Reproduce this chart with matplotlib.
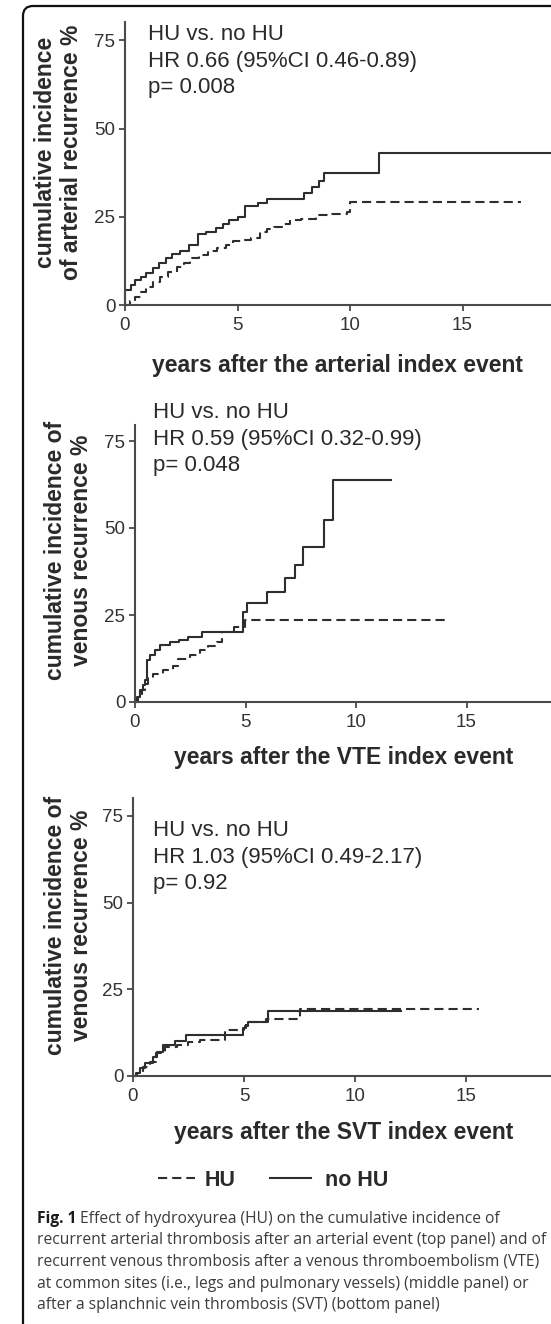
import matplotlib
matplotlib.use("Agg")
import matplotlib.pyplot as plt
from matplotlib.patches import FancyBboxPatch
from matplotlib.lines import Line2D
from matplotlib.transforms import IdentityTransform

plt.rcParams['font.family'] = ['Liberation Sans', 'DejaVu Sans']
plt.rcParams['lines.scale_dashes'] = False

# ---------------- data (years, cumulative incidence %) ----------------
art_hu_t = [0, 0.2, 0.45, 0.7, 0.95, 1.25, 1.55, 1.9, 2.3, 2.6, 2.9, 3.3, 3.7, 4.1,
            4.5, 4.8, 5.2, 5.6, 6.0, 6.3, 6.6, 7.0, 7.35, 7.8, 8.5, 9.0, 9.85, 10.0, 17.6]
art_hu_v = [0, 1.0, 2.4, 3.8, 5.2, 6.6, 8.0, 9.4, 10.9, 12.0, 13.2, 14.2, 15.2, 16.1,
            17.0, 18.0, 18.5, 19.0, 20.8, 21.5, 22.2, 23.0, 24.1, 24.4, 25.5, 25.8, 26.4, 29.3, 29.3]
art_nohu_t = [0, 0, 0.25, 0.45, 0.7, 0.95, 1.25, 1.5, 1.8, 2.1, 2.45, 2.85, 3.25, 3.6, 4.05,
              4.35, 4.6, 5.0, 5.35, 5.9, 6.3, 7.95, 8.3, 8.6, 8.85, 11.3, 20.0]
art_nohu_v = [0, 4.2, 5.8, 7.1, 8.0, 9.0, 10.4, 11.8, 13.2, 14.5, 15.3, 17.0, 20.0, 20.8, 21.8,
              23.0, 24.1, 25.0, 28.0, 28.8, 29.9, 31.6, 33.5, 35.2, 37.5, 43.0, 43.0]

vte_hu_t = [0, 0.15, 0.3, 0.45, 0.6, 0.8, 1.25, 1.7, 1.95, 2.5, 2.95, 3.3, 3.7, 3.95, 4.5, 4.97, 14.2]
vte_hu_v = [0, 1.5, 3.5, 5.3, 6.8, 8.1, 9.1, 10.3, 12.5, 13.5, 14.9, 16.0, 17.2, 20.1, 21.5, 23.5, 23.5]
vte_nohu_t = [0, 0.1, 0.23, 0.35, 0.45, 0.56, 0.68, 0.9, 1.13, 1.58, 2.0, 2.41, 3.02, 4.9,
              5.05, 5.96, 6.79, 7.24, 7.62, 8.55, 8.94, 11.6]
vte_nohu_v = [0, 1.5, 3.4, 5.0, 6.2, 12.0, 13.4, 14.9, 16.3, 17.2, 17.9, 18.7, 20.1, 25.9,
              28.5, 31.6, 35.5, 39.3, 44.5, 52.4, 63.9, 63.9]

svt_hu_t = [0, 0.2, 0.45, 0.75, 1.05, 1.43, 2.0, 2.48, 3.0, 4.13, 5.0, 5.1, 6.0, 7.5, 15.6]
svt_hu_v = [0, 1.0, 2.5, 4.1, 6.5, 8.4, 8.9, 9.9, 10.4, 13.3, 13.8, 15.6, 16.3, 19.2, 19.2]
svt_nohu_t = [0, 0.15, 0.33, 0.55, 0.9, 1.1, 1.35, 1.9, 2.4, 4.96, 5.05, 5.18, 6.08, 12.05]
svt_nohu_v = [0, 1.0, 2.2, 3.8, 5.6, 7.0, 8.9, 10.0, 11.8, 13.7, 14.5, 15.6, 18.8, 18.8]

x_ticks = [0, 5, 10, 15]
y_ticks = [0, 25, 50, 75]

annot_top = ["HU vs. no HU", "HR 0.66 (95%CI 0.46-0.89)", "p= 0.008"]
annot_mid = ["HU vs. no HU", "HR 0.59 (95%CI 0.32-0.99)", "p= 0.048"]
annot_bot = ["HU vs. no HU", "HR 1.03 (95%CI 0.49-2.17)", "p= 0.92"]

ylab_top = ["cumulative incidence", "of arterial recurrence %"]
ylab_mid = ["cumulative incidence of", "venous recurrence %"]
ylab_bot = ["cumulative incidence of", "venous recurrence %"]

xlab_top = "years after the arterial index event"
xlab_mid = "years after the VTE index event"
xlab_bot = "years after the SVT index event"

legend_labels = ["HU", "no HU"]

caption_bold = "Fig. 1"
caption_lines = [
    " Effect of hydroxyurea (HU) on the cumulative incidence of",
    "recurrent arterial thrombosis after an arterial event (top panel) and of",
    "recurrent venous thrombosis after a venous thromboembolism (VTE)",
    "at common sites (i.e., legs and pulmonary vessels) (middle panel) or",
    "after a splanchnic vein thrombosis (SVT) (bottom panel)",
]

# ---------------- layout (pixels) ----------------
W, H = 551, 1324
DPI = 100
fig = plt.figure(figsize=(W / DPI, H / DPI), dpi=DPI)
fig.patch.set_facecolor('white')

LINE_C = '#2e2e2e'
AX_C = '#4a4a4a'
TXT_C = '#2a2a2a'
DASH = (0, (6.6, 3.6))


def fx(x):
    return x / W


def fy(y):
    return 1 - y / H


panels = [
    dict(x0=125, y0=305, ytop=22, ppx=22.5, ppy=3.53,
         hu=(art_hu_t, art_hu_v), nohu=(art_nohu_t, art_nohu_v),
         annot=annot_top, ax_=148, ay=40,
         ylab=ylab_top, ylx=(46, 72), yly=152,
         xlab=xlab_top, xlx=337, xly=365),
    dict(x0=135, y0=702, ytop=425, ppx=22.1, ppy=3.48,
         hu=(vte_hu_t, vte_hu_v), nohu=(vte_nohu_t, vte_nohu_v),
         annot=annot_mid, ax_=153, ay=418,
         ylab=ylab_mid, ylx=(56, 81), yly=550,
         xlab=xlab_mid, xlx=344, xly=758),
    dict(x0=133, y0=1076, ytop=798, ppx=22.2, ppy=3.47,
         hu=(svt_hu_t, svt_hu_v), nohu=(svt_nohu_t, svt_nohu_v),
         annot=annot_bot, ax_=153, ay=836,
         ylab=ylab_bot, ylx=(56, 81), yly=925,
         xlab=xlab_bot, xlx=344, xly=1132),
]

for p in panels:
    xmax = 20
    ymax = (p['y0'] - p['ytop']) / p['ppy']
    ax = fig.add_axes([fx(p['x0']), fy(p['y0']), p['ppx'] * xmax / W,
                       (p['y0'] - p['ytop']) / H])
    ax.set_xlim(0, xmax)
    ax.set_ylim(0, ymax)
    ax.patch.set_alpha(0)
    for s in ['top', 'right']:
        ax.spines[s].set_visible(False)
    for s in ['left', 'bottom']:
        ax.spines[s].set_color(AX_C)
        ax.spines[s].set_linewidth(1.5)
    ax.set_xticks(x_ticks)
    ax.set_yticks(y_ticks)
    ax.tick_params(axis='both', length=4, width=1.3, color=AX_C,
                   labelsize=13.5, labelcolor='#333333')
    ax.tick_params(axis='x', pad=4.5)
    ax.tick_params(axis='y', pad=3)
    t, v = p['hu']
    ax.plot(t, v, drawstyle='steps-post', color=LINE_C, lw=1.5,
            linestyle=DASH, clip_on=False)
    t, v = p['nohu']
    ax.plot(t, v, drawstyle='steps-post', color=LINE_C, lw=1.5, clip_on=False)

    for i, s in enumerate(p['annot']):
        fig.text(fx(p['ax_']), fy(p['ay'] + 26.5 * i), s, fontsize=16,
                 color='#2a2a2a', ha='left', va='baseline')
    for s, xl in zip(p['ylab'], p['ylx']):
        fig.text(fx(xl), fy(p['yly']), s, rotation=90, fontsize=16.5,
                 fontweight='bold', color=TXT_C, ha='center', va='center')
    fig.text(fx(p['xlx']), fy(p['xly']), p['xlab'], fontsize=16.5,
             fontweight='bold', color=TXT_C, ha='center', va='center')

# ---------------- legend ----------------
leg_y = 1178
fig.add_artist(Line2D([fx(158), fx(195)], [fy(leg_y), fy(leg_y)],
                      color=LINE_C, lw=1.5, linestyle=DASH,
                      transform=fig.transFigure))
fig.text(fx(205), fy(leg_y + 7.5), legend_labels[0], fontsize=15.5,
         fontweight='bold', color=TXT_C, ha='left', va='baseline')
fig.add_artist(Line2D([fx(270), fx(311)], [fy(leg_y), fy(leg_y)],
                      color=LINE_C, lw=1.5, transform=fig.transFigure))
fig.text(fx(325), fy(leg_y + 7.5), legend_labels[1], fontsize=15.5,
         fontweight='bold', color=TXT_C, ha='left', va='baseline')

# ---------------- caption ----------------
renderer = fig.canvas.get_renderer()
CAP_FONT = ['Open Sans', 'DejaVu Sans']
probe = fig.text(0, 0, caption_lines[1], fontsize=10, family=CAP_FONT)
wpx = probe.get_window_extent(renderer).width
probe.remove()
cap_size = 10 * 508 / wpx

cap_x = 37
cap_base = [1223, 1244.5, 1266, 1287.5, 1309]
b = fig.text(fx(cap_x), fy(cap_base[0]), caption_bold, fontsize=cap_size,
             family=CAP_FONT, fontweight='bold', color='#1a1a1a',
             ha='left', va='baseline')
bw = b.get_window_extent(renderer).width
fig.text(fx(cap_x + bw), fy(cap_base[0]), caption_lines[0], fontsize=cap_size,
         family=CAP_FONT, color='#3c3c3c', ha='left', va='baseline')
for s, yb in zip(caption_lines[1:], cap_base[1:]):
    fig.text(fx(cap_x), fy(yb), s, fontsize=cap_size, family=CAP_FONT,
             color='#3c3c3c', ha='left', va='baseline')

# ---------------- frame ----------------
frame = FancyBboxPatch((23, -60), 640, H - 6 + 60,
                       boxstyle="round,pad=0,rounding_size=10",
                       transform=IdentityTransform(), facecolor='none',
                       edgecolor='#111111', lw=1.6)
fig.add_artist(frame)

fig.savefig('out.png', dpi=DPI, facecolor='white')
